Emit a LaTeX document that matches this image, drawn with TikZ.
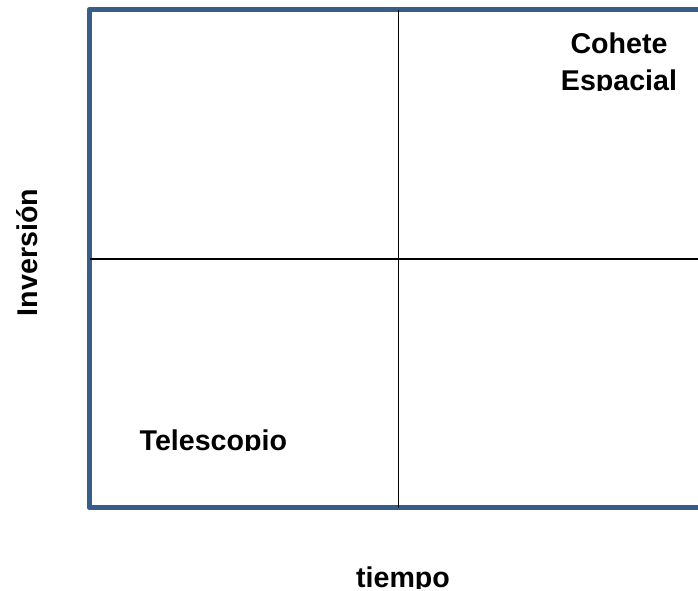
\documentclass[tikz,border=0pt]{standalone}
\usepackage{fontspec}
\setmainfont{Liberation Sans}
\definecolor{marco}{HTML}{385D8A}
\begin{document}
\begin{tikzpicture}
    [x=1pt,y=-1pt,
    etiqueta/.style={font=\bfseries\fontsize{28.6}{36.7}\selectfont, inner sep=0pt},
    eje/.style={line width=1.8pt, black}]
    \useasboundingbox (0,0) rectangle (698,590);
    \clip (0,0) rectangle (698,590);
    % marco
    \draw[marco, line width=5.5pt, line join=round] (89.5,9.5) rectangle (720,507.5);
    \coordinate (arriba) at (398.5,9.5);
    \coordinate (abajo) at (398.5,507.5);
    \coordinate (izq) at (89.5,258.7);
    \coordinate (der) at (720,258.7);
    \draw[eje] (arriba) -- (abajo);
    \draw[eje] (izq) -- (der);
    % textos
    \begin{scope}
      \clip (500,0) rectangle (698,90);
      \node[etiqueta, align=center, anchor=north] (cohete) at (619,32.5) {Cohete\\Espacial};
    \end{scope}
    \begin{scope}
      \clip (100,400) rectangle (390,450);
      \node[etiqueta, anchor=base west] (telescopio) at (139.5,450.5) {Telescopio};
    \end{scope}
    \begin{scope}
      \clip (300,540) rectangle (500,588);
      \node[etiqueta, anchor=base] (tiempo) at (403,587.5) {tiempo};
    \end{scope}
    \node[etiqueta, rotate=90, anchor=base] (inversion) at (37,252.5) {Inversión};
\end{tikzpicture}
\end{document}
